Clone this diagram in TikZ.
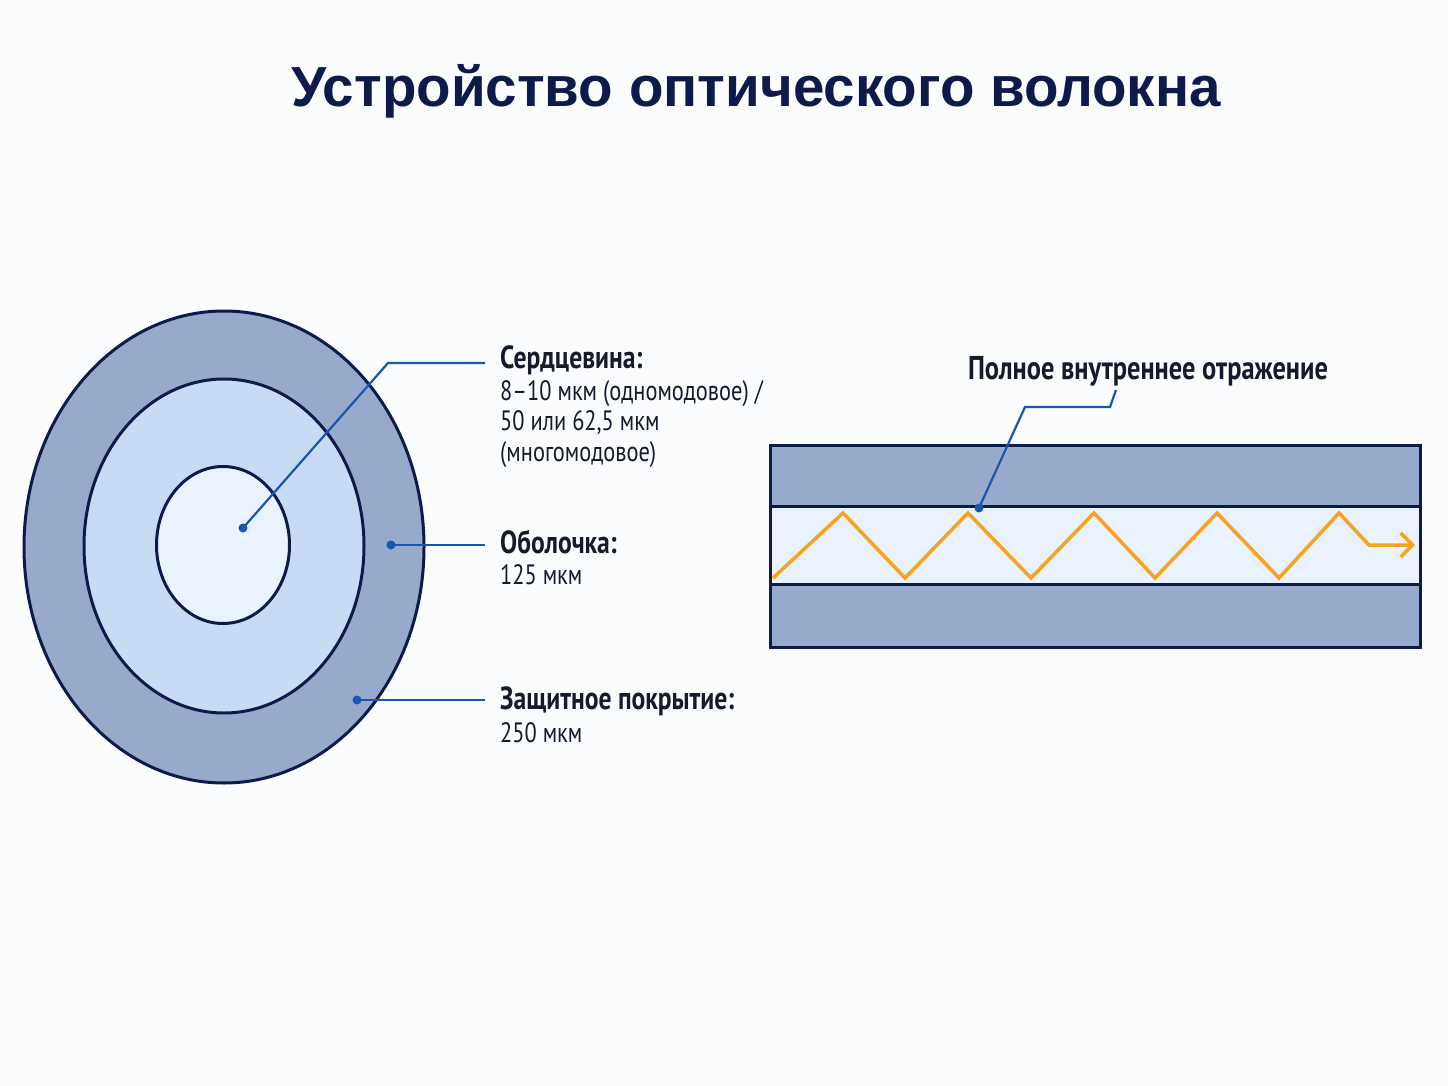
\documentclass[tikz,border=0pt]{standalone}
\usepackage{fontspec}
\setmainfont{PT Sans}[FakeStretch=0.8]
\newfontfamily\titlefont{Liberation Sans}
\usetikzlibrary{shapes.geometric,arrows.meta}
\definecolor{bgc}{HTML}{FBFCFD}
\definecolor{navy}{HTML}{0E1B4A}
\definecolor{coat}{HTML}{97AACB}
\definecolor{clad}{HTML}{C7DBF5}
\definecolor{corec}{HTML}{EAF2FD}
\definecolor{lead}{HTML}{1A55AE}
\definecolor{ray}{HTML}{F5A321}
\definecolor{txt}{HTML}{151A2C}
\tikzset{
  layer/.style={ellipse, draw=navy, line width=3pt, inner sep=0pt},
  band/.style={draw=navy, line width=3pt, fill=coat},
  leader/.style={draw=lead, line width=2.2pt},
  dot/.style={circle, fill=lead, inner sep=0pt, minimum size=9pt},
  head/.style={anchor=base west, inner sep=0pt, font=\fontsize{32}{31}\selectfont\bfseries, text=txt},
  body/.style={anchor=base west, inner sep=0pt, font=\fontsize{28}{31}\selectfont, text=txt, align=left},
  rayline/.style={draw=ray, line width=3.5pt, line join=miter},
}
\begin{document}
\begin{tikzpicture}[x=1pt,y=-1pt]
\useasboundingbox[fill=bgc] (0,0) rectangle (1448,1086);
% title
\node[font=\titlefont\fontsize{56.5}{60}\selectfont\bfseries, text=navy, anchor=base] (title) at (756,107) {Устройство оптического волокна};
% cross-section
\node[layer, fill=coat, minimum width=400pt, minimum height=472pt] (coating) at (224,547) {};
\node[layer, fill=clad, minimum width=280pt, minimum height=334pt] (cladding) at (224,546) {};
\node[layer, fill=corec, minimum width=133pt, minimum height=157pt] (core) at (223,545) {};
% dots
\node[dot] (dcore) at (243,528) {};
\node[dot] (dclad) at (391,545) {};
\node[dot] (dcoat) at (357,700) {};
\coordinate (kcore) at (388,363);
\coordinate (ecore) at (485,363);
\coordinate (eclad) at (485,545);
\coordinate (ecoat) at (485,700);
\draw[leader] (dcore.center) -- (kcore) -- (ecore);
\draw[leader] (dclad.center) -- (eclad);
\draw[leader] (dcoat.center) -- (ecoat);
% labels
\node[head] (hcore) at (500,368) {Сердцевина:};
\node[body] (bcore1) at (500,400) {8–10 мкм (одномодовое) /};
\node[body] (bcore2) at (500,430) {50 или 62,5 мкм};
\node[body] (bcore3) at (500,461) {(многомодовое)};
\node[head] (hclad) at (500,553) {Оболочка:};
\node[body] (bclad) at (500,584) {125 мкм};
\node[head] (hcoat) at (500,709) {Защитное покрытие:};
\node[body] (bcoat) at (500,742) {250 мкм};
% longitudinal view
\path[fill=corec] (770,506) rectangle (1420,584);
\draw[band] (770,445) rectangle (1420,506);
\draw[band] (770,584) rectangle (1420,647);
\draw[draw=navy, line width=3pt] (770,506) -- (770,584) (1420,506) -- (1420,584);
\coordinate (r0) at (773,578);
\coordinate (rend) at (1415,545);
\draw[rayline, -{Straight Barb[length=12pt,width=24pt,line width=3.5pt]}] (r0) -- (843,513) -- (905,578) -- (968,513) -- (1031,578) -- (1094,513) -- (1155,578) -- (1217,513) -- (1279,578) -- (1339,513) -- (1369,545) -- (rend);
% TIR label
\node[head, anchor=base, font=\fontsize{33}{31}\selectfont\bfseries] (tir) at (1148,379) {Полное внутреннее отражение};
\node[dot] (dtir) at (979,508) {};
\coordinate (t1) at (1116,390);
\coordinate (t2) at (1110,407);
\coordinate (t3) at (1025,407);
\draw[leader] (t1) -- (t2) -- (t3) -- (dtir.center);
\end{tikzpicture}
\end{document}
